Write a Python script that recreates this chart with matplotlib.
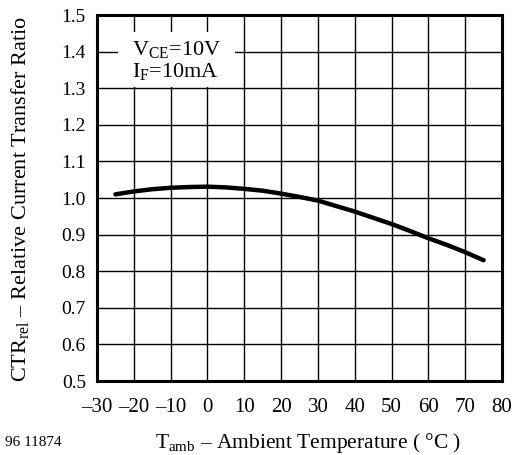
import matplotlib
matplotlib.use('Agg')
import matplotlib.pyplot as plt
from matplotlib.patches import Rectangle

plt.rcParams['font.family'] = 'Liberation Serif'
plt.rcParams['mathtext.fontset'] = 'custom'
plt.rcParams['mathtext.rm'] = 'Liberation Serif'
plt.rcParams['mathtext.it'] = 'Liberation Serif:italic'

# temperature (degC) and relative CTR
temperatura = [-25, -20, -15, -10, -5, 0, 5, 10, 15, 20, 25, 30, 35, 40, 45, 50, 55, 60, 65, 70, 75]
ctr_rel = [1.010, 1.018, 1.024, 1.028, 1.030, 1.031, 1.029, 1.025, 1.020, 1.012, 1.003,
           0.993, 0.978, 0.963, 0.946, 0.929, 0.910, 0.890, 0.872, 0.852, 0.830]

x_ticks = [-30, -20, -10, 0, 10, 20, 30, 40, 50, 60, 70, 80]
x_labels = ['–30', '–20', '–10', '0', '10', '20', '30', '40', '50', '60', '70', '80']
y_ticks = [0.5, 0.6, 0.7, 0.8, 0.9, 1.0, 1.1, 1.2, 1.3, 1.4, 1.5]
y_labels = ['0.5', '0.6', '0.7', '0.8', '0.9', '1.0', '1.1', '1.2', '1.3', '1.4', '1.5']

fig = plt.figure(figsize=(5.17, 4.55), dpi=100)
ax = fig.add_axes([0.1876, 0.1626, 0.7834, 0.8044])

ax.set_xlim(-30, 80)
ax.set_ylim(0.5, 1.5)
ax.set_xticks(x_ticks)
ax.set_xticklabels(x_labels)
ax.set_yticks(y_ticks)
ax.set_yticklabels(y_labels)
ax.tick_params(length=0, labelsize=14, pad=8)
ax.tick_params(axis='x', pad=12, labelsize=15)
ax.grid(True, color='black', linewidth=1.0)
ax.set_axisbelow(True)
for s in ax.spines.values():
    s.set_linewidth(2.2)
    s.set_zorder(5)

# white box behind the conditions text
ax.add_patch(Rectangle((-24.3, 1.302), 31.8, 0.152, facecolor='white', edgecolor='none', zorder=2))
ax.text(-20.5, 1.391, r'V$_{\mathrm{CE}}$=10V', fontsize=16, zorder=3)
ax.text(-20.5, 1.330, r'I$_{\mathrm{F}}$=10mA', fontsize=16, zorder=3)

ax.plot(temperatura, ctr_rel, color='black', linewidth=3.2, solid_capstyle='round', zorder=4)

fig.text(0.039, 1 - 199 / 455, r'CTR$_{\mathrm{rel}}$ – Relative Current Transfer Ratio', rotation=90,
         fontsize=16, ha='center', va='center')
fig.text(308 / 517, 1 - 443 / 455, r'T$_{\mathrm{amb}}$ – Ambient Temperature ( °C )',
         fontsize=15.5, ha='center', va='center')
fig.text(5 / 517, 1 - 443 / 455, '96 11874', fontsize=11, ha='left', va='center')

plt.savefig('out.png', dpi=100)
